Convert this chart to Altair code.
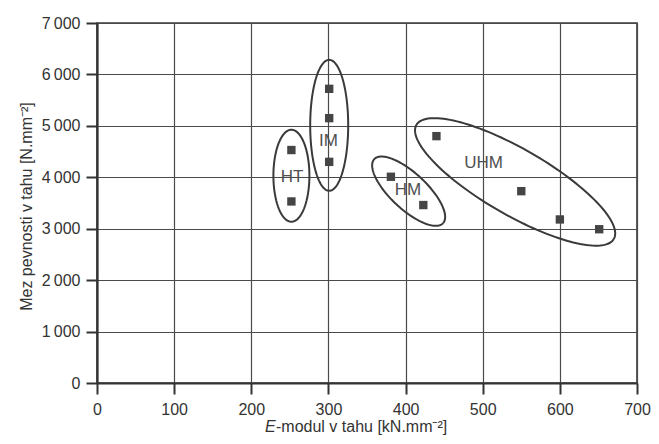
import altair as alt
import numpy as np
import pandas as pd

# ---- data ----
groups = ["HT", "HT", "IM", "IM", "IM", "HM", "HM", "UHM", "UHM", "UHM", "UHM"]
modulus = [252, 252, 301, 301, 301, 381, 423, 440, 550, 600, 651]
strength = [4530, 3530, 5720, 5150, 4300, 4010, 3460, 4800, 3730, 3180, 2990]

label_names = ["HT", "IM", "HM", "UHM"]
label_x = [253, 300, 403, 501]
label_y = [4000, 4700, 3745, 4275]

# ellipse outlines: centre in data units, semi-axes in px, tilt in degrees
ell_names = ["HT", "IM", "HM", "UHM"]
ell_cx = [252, 301, 404, 542]
ell_cy = [4030, 5010, 3730, 3910]
ell_a = [46, 65.5, 47, 114]
ell_b = [18, 19, 18, 33]
ell_tilt = [90, 90, 43, 30]

x_ticks = list(range(0, 701, 100))
y_ticks = list(range(0, 7001, 1000))

W, H = 540, 360
X_MAX, Y_MAX = 700, 7000
FONT = "Liberation Sans"
INK = "#333333"

points = pd.DataFrame({"group": groups, "modulus": modulus, "strength": strength})
labels = pd.DataFrame({"name": label_names, "modulus": label_x, "strength": label_y})

sx, sy = W / X_MAX, H / Y_MAX
rows = []
t = np.linspace(0, 2 * np.pi, 145)
for n, cx, cy, a, b, th in zip(ell_names, ell_cx, ell_cy, ell_a, ell_b, ell_tilt):
    r = np.radians(th)
    dx = a * np.cos(t) * np.cos(r) - b * np.sin(t) * np.sin(r)
    dy = a * np.cos(t) * np.sin(r) + b * np.sin(t) * np.cos(r)
    for i, (u, v) in enumerate(zip(dx, dy)):
        rows.append({"group": n, "i": i, "modulus": cx + u / sx, "strength": cy - v / sy})
ellipses = pd.DataFrame(rows)

xs = alt.Scale(domain=[0, X_MAX], nice=False, zero=False)
ys = alt.Scale(domain=[0, Y_MAX], nice=False, zero=False)

x_axis = alt.Axis(
    values=x_ticks, title=None, grid=True, gridColor="#4a4a4a", gridWidth=1.2,
    domainColor=INK, domainWidth=2.2, tickColor=INK, tickWidth=2, tickSize=11,
    labelFont=FONT, labelFontSize=16, labelColor=INK, labelPadding=7,
    labelFlush=False,
)
y_axis = alt.Axis(
    values=y_ticks, grid=True, gridColor="#4a4a4a", gridWidth=1.2,
    domainColor=INK, domainWidth=2.2, tickColor=INK, tickWidth=2, tickSize=11,
    labelFont=FONT, labelFontSize=16, labelColor=INK, labelPadding=6,
    labelExpr="datum.value >= 1000 ? replace(format(datum.value, ','), ',', '\u2009') : datum.label",
    title="Mez pevnosti v tahu [N.mm\u207b\u00b2]", titleFont=FONT, titleFontSize=16,
    titleFontWeight="normal", titleColor=INK, titleX=-63, titleY=183,
    titleAngle=270, titleAlign="center", titleBaseline="bottom",
)

ell = alt.Chart(ellipses).mark_line(color="#3a3a3a", strokeWidth=2).encode(
    x=alt.X("modulus:Q", scale=xs, axis=x_axis),
    y=alt.Y("strength:Q", scale=ys, axis=y_axis),
    detail="group:N",
    order="i:Q",
)

pts = alt.Chart(points).mark_square(size=70, color="#454545", opacity=1).encode(
    x=alt.X("modulus:Q", scale=xs),
    y=alt.Y("strength:Q", scale=ys),
)

txt = alt.Chart(labels).mark_text(font=FONT, fontSize=17, color="#505050",
                                  align="center", baseline="middle").encode(
    x=alt.X("modulus:Q", scale=xs),
    y=alt.Y("strength:Q", scale=ys),
    text="name:N",
)

title_df = pd.DataFrame({"a": ["E"], "b": ["-modul v tahu [kN.mm\u207b\u00b2]"]})
t_e = alt.Chart(title_df).mark_text(font=FONT, fontSize=16, fontStyle="italic", color=INK,
                                    align="left", baseline="alphabetic").encode(
    x=alt.value(168), y=alt.value(409), text="a:N")
t_rest = alt.Chart(title_df).mark_text(font=FONT, fontSize=16, color=INK,
                                       align="left", baseline="alphabetic").encode(
    x=alt.value(179), y=alt.value(409), text="b:N")

chart = alt.layer(ell, pts, txt, t_e, t_rest).properties(
    width=W, height=H,
    autosize=alt.AutoSizeParams(type="none"),
    padding={"left": 89, "top": 15, "right": 14, "bottom": 53},
    background="white",
).configure_view(stroke="#3a3a3a", strokeWidth=1.6)

chart.save("out.html", embed_options={"renderer": "svg", "actions": False})
